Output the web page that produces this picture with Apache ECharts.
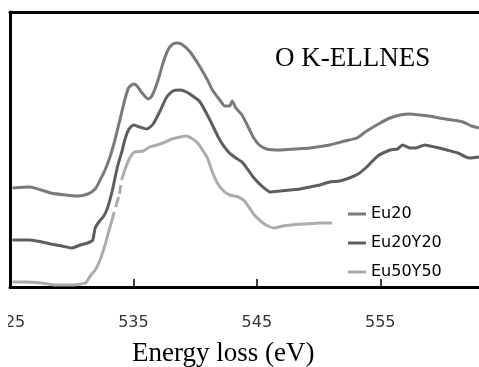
<!DOCTYPE html>
<html>
<head>
<meta charset="utf-8">
<script src="https://cdn.jsdelivr.net/npm/echarts@6/dist/echarts.min.js"></script>
<style>html,body{margin:0;padding:0;background:#fff;}#c{width:479px;height:367px;}</style>
</head>
<body>
<div id="c"></div>
<script>
var titleText = 'O K-ELLNES';
var xAxisName = 'Energy loss (eV)';
var tickValues = [525, 535, 545, 555];
var seriesNames = ['Eu20', 'Eu20Y20', 'Eu50Y50'];

var eu20 = [
[525.2,99],[526.6,100],[528.3,94],[529.5,92],[530.5,91],[531.3,93],[531.9,98],[532.3,107],[532.7,117],[533.1,130],
[533.5,147],[533.9,167],[534.3,187],[534.6,199],[535.0,203],[535.3,201],[535.7,194],[536.2,188],[536.5,191],[537.0,207],
[537.4,224],[537.8,237],[538.2,243],[538.6,244],[539.0,242],[539.6,235],[540.4,220],[541.0,207],[541.4,197],[542.0,187],
[542.4,181],[542.8,181],[543.0,186],[543.3,179],[543.8,172],[544.3,160],[544.7,150],[545.2,142],[545.8,138],[546.9,137],
[548.1,138],[549.3,139],[550.9,142],[552.1,146],[553.1,149],[553.9,156],[555.0,164],[555.8,169],[556.6,172],[557.4,173],
[558.2,172],[559.0,171],[559.8,169],[560.8,167],[561.7,165],[562.4,161],[563.0,159]
];
var eu20y20 = [
[525.2,47],[526.6,47],[528.3,43],[529.2,41],[530.0,39],[530.7,42],[531.3,44],[531.7,47],[531.9,59],[532.2,65],
[532.6,71],[532.9,79],[533.3,97],[533.7,120],[534.1,137],[534.3,147],[534.6,157],[535.0,162],[535.5,160],[536.1,158],
[536.6,163],[537.2,177],[537.7,190],[538.2,196],[538.8,197],[539.3,195],[539.8,191],[540.4,185],[541.2,167],[542.0,147],
[542.7,135],[543.3,129],[543.8,125],[544.3,117],[544.7,110],[545.4,101],[546.1,95],[546.9,96],[547.7,97],[548.5,98],
[549.3,100],[550.1,102],[550.9,105],[551.7,106],[552.5,109],[553.2,113],[553.9,120],[554.8,131],[555.8,137],[556.4,138],
[556.8,142],[557.4,139],[557.9,139],[558.6,142],[559.4,140],[560.4,137],[561.3,134],[562.2,129],[563.0,130]
];
var eu50y50 = [
[525.2,5],[526.2,5],[527.5,4],[528.7,2],[529.9,2],[531.1,4],[531.5,11],[531.9,17],[532.3,27],[532.7,42],
[533.1,60],[533.45,75],[533.5,'-'],[533.55,80],[533.8,90],[533.83,'-'],[533.87,93],[533.98,102],[534.0,'-'],[534.04,107],
[534.3,117],[534.7,129],[535.1,135],[535.8,136],[536.3,140],[536.9,142],[537.6,145],
[538.1,148],[538.8,150],[539.3,151],[539.8,148],[540.2,144],[540.6,137],[541.0,129],[541.4,115],[541.8,104],[542.3,96],
[542.8,92],[543.5,90],[544.0,86],[544.8,72],[545.4,65],[545.9,61],[546.4,59],[547.1,61],[547.8,62],[548.9,63],
[550.1,64],[551.1,64]
];

var colors = ['#7a7a7a', '#5e5e5e', '#acacac'];
var chart = echarts.init(document.getElementById('c'), null, {renderer: 'canvas'});
function mk(name, data, color) {
  return {name: name, type: 'line', data: data, showSymbol: false, smooth: 0.2, connectNulls: false,
    lineStyle: {width: 3, color: color}, itemStyle: {color: color}};
}
chart.setOption({
  animation: false,
  backgroundColor: '#fff',
  title: [
    {text: titleText, left: 275, top: 45, padding: 0,
     textStyle: {fontFamily: 'Liberation Serif', fontSize: 27, fontWeight: 'normal', color: '#000'}},
    {text: xAxisName, left: 132, top: 340, padding: 0,
     textStyle: {fontFamily: 'Liberation Serif', fontSize: 27, fontWeight: 'normal', color: '#000'}}
  ],
  legend: {orient: 'vertical', left: 348, top: 206, padding: 0, itemGap: 13,
    itemWidth: 18, itemHeight: 3, icon: 'rect',
    textStyle: {fontFamily: 'DejaVu Sans', fontSize: 16, lineHeight: 16, color: '#000'},
    data: seriesNames},
  grid: {left: 10, right: 0, top: 12, bottom: 80, containLabel: false, outerBoundsMode: 'none'},
  graphic: [{type: 'rect', left: 0, top: 305, shape: {width: 8, height: 30}, style: {fill: '#fff'}, z: 100}],
  xAxis: [
    {type: 'value', min: 525, max: 563, position: 'bottom',
     axisLine: {show: true, lineStyle: {color: '#000', width: 3}},
     axisTick: {show: true, inside: true, length: 8, lineStyle: {color: '#000', width: 1.5}, customValues: tickValues},
     axisLabel: {show: true, customValues: tickValues, margin: 28,
       fontFamily: 'DejaVu Sans', fontSize: 16, color: '#333'},
     splitLine: {show: false}},
    {type: 'value', min: 525, max: 563, position: 'top',
     axisLine: {show: true, lineStyle: {color: '#000', width: 3}},
     axisTick: {show: false}, axisLabel: {show: false}, splitLine: {show: false}}
  ],
  yAxis: {type: 'value', min: 0, max: 275,
    axisLine: {show: true, lineStyle: {color: '#000', width: 3}},
    axisTick: {show: false}, axisLabel: {show: false}, splitLine: {show: false}},
  series: [mk(seriesNames[0], eu20, colors[0]), mk(seriesNames[1], eu20y20, colors[1]), mk(seriesNames[2], eu50y50, colors[2])]
});
</script>
</body>
</html>
